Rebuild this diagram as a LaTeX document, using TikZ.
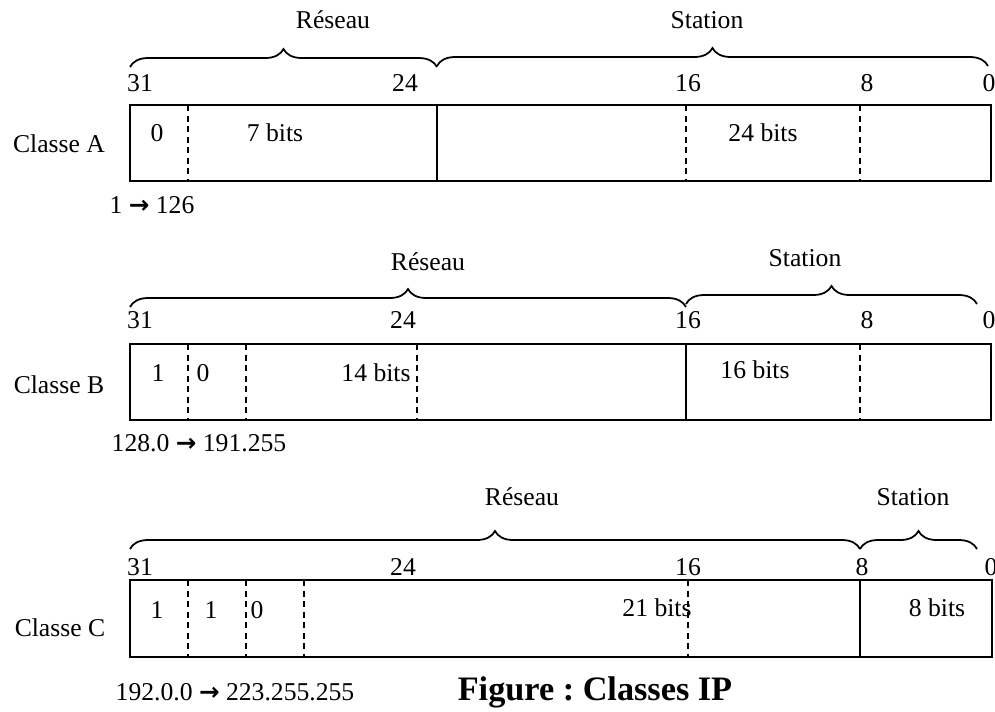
\documentclass[tikz,border=0pt]{standalone}
\usepackage{fontspec}
\setmainfont{Liberation Serif}
\newfontfamily\flechefont{DejaVu Sans}
\usetikzlibrary{decorations.pathreplacing}
\newcommand{\fleche}{{\flechefont\bfseries\fontsize{14}{16}\selectfont →}}
\frenchspacing

\begin{document}
\begin{tikzpicture}[
    x=0.02cm, y=-0.02cm,
    txt/.style={font=\fontsize{14.6}{16}\selectfont, inner sep=0pt},
    cadre/.style={line width=1.1pt},
    pointille/.style={line width=1.4pt, dash pattern=on 3.5pt off 2.5pt},
    accolade/.style={line width=1pt, decorate, decoration={brace, amplitude=0.36cm}}
]
    \useasboundingbox (0,0) rectangle (995,711);

    % Classe A
    \node[txt] (resA) at (333,20) {Réseau};
    \node[txt] (staA) at (707,20) {Station};
    \draw[accolade] (130,67) -- (437,67);
    \draw[accolade] (437,66) -- (988,66);
    \foreach \x/\n in {140/31, 405/24, 688/16, 867/8, 989/0}
        \node[txt] (bA\n) at (\x,83) {\n};
    \draw[cadre] (130,105) rectangle (991,181);
    \draw[cadre] (437,105) -- (437,181);
    \foreach \x in {188, 686, 860}
        \draw[pointille] (\x,105) -- (\x,181);
    \node[txt] (clA) at (59,144) {Classe A};
    \node[txt] (a0) at (157,133) {0};
    \node[txt] (a7) at (275,133) {7 bits};
    \node[txt] (a24) at (763,133) {24 bits};
    \node[txt] (plA) at (152,205) {1 \fleche{} 126};

    % Classe B
    \node[txt] (resB) at (428,262) {Réseau};
    \node[txt] (staB) at (805,258) {Station};
    \draw[accolade] (130,307) -- (686,307);
    \draw[accolade] (686,304) -- (977,304);
    \foreach \x/\n in {140/31, 403/24, 688/16, 867/8, 989/0}
        \node[txt] (bB\n) at (\x,320) {\n};
    \draw[cadre] (130,344) rectangle (991,420);
    \draw[cadre] (686,344) -- (686,420);
    \foreach \x in {188, 246, 417, 860}
        \draw[pointille] (\x,344) -- (\x,420);
    \node[txt] (clB) at (59,385) {Classe B};
    \node[txt] (b1) at (158,373) {1};
    \node[txt] (b0) at (203,373) {0};
    \node[txt] (b14) at (376,373) {14 bits};
    \node[txt] (b16) at (755,370) {16 bits};
    \node[txt] (plB) at (199,443) {128.0 \fleche{} 191.255};

    % Classe C
    \node[txt] (resC) at (522,497) {Réseau};
    \node[txt] (staC) at (913,497) {Station};
    \draw[accolade] (130,549) -- (860,549);
    \draw[accolade] (860,549) -- (977,549);
    \foreach \x/\n in {140/31, 403/24, 688/16, 862/8, 991/0}
        \node[txt] (bC\n) at (\x,567) {\n};
    \draw[cadre] (130,580) rectangle (992,657);
    \draw[cadre] (860,580) -- (860,657);
    \foreach \x in {188, 246, 304, 688}
        \draw[pointille] (\x,580) -- (\x,657);
    \node[txt] (clC) at (60,628) {Classe C};
    \node[txt] (c1) at (157,610) {1};
    \node[txt] (c2) at (211,610) {1};
    \node[txt] (c0) at (257,610) {0};
    \node[txt] (c21) at (657,608) {21 bits};
    \node[txt] (c8) at (937,608) {8 bits};
    \node[txt] (plC) at (235,692) {192.0.0 \fleche{} 223.255.255};

    \node[txt, font=\fontsize{19.5}{22}\selectfont\bfseries] (titre) at (595,692) {Figure : Classes IP};
\end{tikzpicture}
\end{document}
